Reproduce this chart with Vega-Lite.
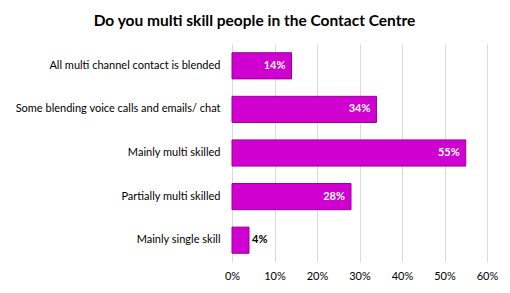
{
  "$schema": "https://vega.github.io/schema/vega-lite/v6.json",
  "autosize": "none",
  "padding": {"left": 232, "top": 44, "right": 23, "bottom": 31},
  "width": 255,
  "height": 218,
  "background": "white",
  "title": {
    "text": "Do you multi skill people in the Contact Centre",
    "font": "Lato",
    "fontSize": 15.5,
    "fontWeight": "bold",
    "color": "#000000",
    "anchor": "middle",
    "dx": -105,
    "offset": 15
  },
  "data": {
    "values": [
      {"category": "All multi channel contact is blended", "value": 0.14},
      {"category": "Some blending voice calls and emails/ chat", "value": 0.34},
      {"category": "Mainly multi skilled", "value": 0.55},
      {"category": "Partially multi skilled", "value": 0.28},
      {"category": "Mainly single skill", "value": 0.04}
    ]
  },
  "encoding": {
    "y": {
      "field": "category",
      "type": "nominal",
      "sort": null,
      "scale": {"paddingInner": 0.4, "paddingOuter": 0.2},
      "axis": {
        "title": null,
        "ticks": false,
        "domain": false,
        "labelPadding": 12,
        "labelFont": "Lato",
        "labelFontSize": 11,
        "labelColor": "#000000",
        "labelLimit": 300
      }
    },
    "x": {
      "field": "value",
      "type": "quantitative",
      "scale": {"domain": [0, 0.6]},
      "axis": {
        "title": null,
        "format": ".0%",
        "values": [0, 0.1, 0.2, 0.3, 0.4, 0.5, 0.6],
        "labelOverlap": false,
        "labelBound": false,
        "labelFlush": false,
        "ticks": false,
        "domain": false,
        "grid": true,
        "gridColor": "#d9d9d9",
        "labelFont": "Lato",
        "labelFontSize": 11,
        "labelColor": "#000000",
        "labelPadding": 8
      }
    }
  },
  "layer": [
    {
      "mark": {"type": "bar", "color": "#d000d0", "stroke": "#9a009a", "strokeWidth": 1}
    },
    {
      "transform": [{"filter": "datum.value >= 0.1"}],
      "mark": {"type": "text", "align": "right", "dx": -6, "font": "Lato", "fontSize": 11, "fontWeight": "bold", "color": "white"},
      "encoding": {"text": {"field": "value", "type": "quantitative", "format": ".0%"}}
    },
    {
      "transform": [{"filter": "datum.value < 0.1"}],
      "mark": {"type": "text", "align": "left", "dx": 3, "font": "Lato", "fontSize": 11, "fontWeight": "bold", "color": "black"},
      "encoding": {"text": {"field": "value", "type": "quantitative", "format": ".0%"}}
    }
  ],
  "config": {"view": {"stroke": null}}
}
